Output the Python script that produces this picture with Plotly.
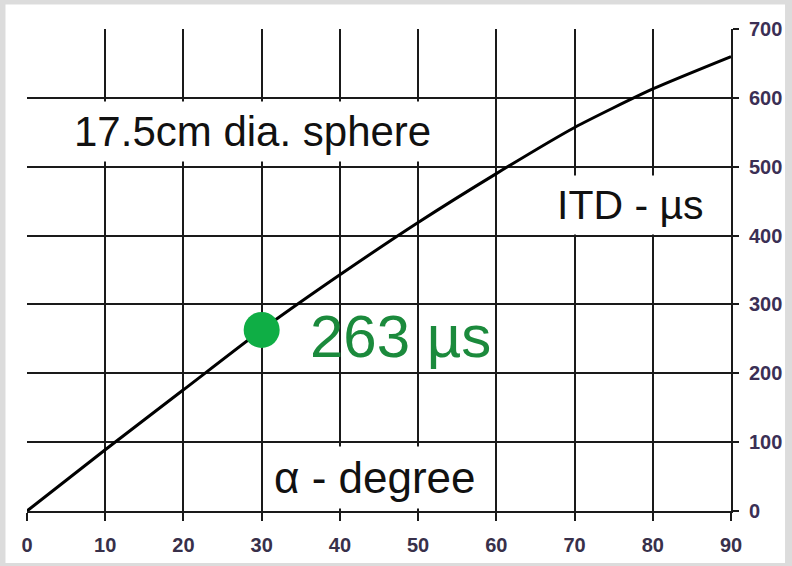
import plotly.graph_objects as go

# Interaural time difference for a 17.5 cm sphere vs. azimuth
angle_deg = [0, 10, 20, 30, 40, 50, 60, 70, 80, 90]
itd_us = [0, 89, 176, 263, 343, 419, 490, 557, 613, 660]

marker_angle = [30]
marker_itd = [263]

x_ticks = [0, 10, 20, 30, 40, 50, 60, 70, 80, 90]
y_ticks = [0, 100, 200, 300, 400, 500, 600, 700]

FONT = "Liberation Sans, Arial, sans-serif"

fig = go.Figure()

fig.add_trace(go.Scatter(
    x=angle_deg, y=itd_us, mode="lines",
    line=dict(color="black", width=3, shape="spline", smoothing=0.6),
    hoverinfo="skip", showlegend=False,
))

fig.add_trace(go.Scatter(
    x=marker_angle, y=marker_itd, mode="markers",
    marker=dict(color="#0fae45", size=36, line=dict(width=0)),
    showlegend=False,
))

grid_col = "#1a1a1a"

fig.update_xaxes(
    range=[0, 90], tickvals=x_ticks, ticktext=[str(v) for v in x_ticks],
    showgrid=True, gridcolor=grid_col, gridwidth=2,
    showline=True, linecolor=grid_col, linewidth=2, mirror=False,
    ticks="outside", ticklen=8, tickwidth=2, tickcolor=grid_col,
    ticklabelstandoff=7, automargin=False,
    tickfont=dict(family=FONT, size=20, color="#38304a", weight="bold"),
    zeroline=False, fixedrange=True,
)
fig.update_yaxes(
    range=[0, 700], tickvals=y_ticks, side="right",
    showgrid=True, gridcolor=grid_col, gridwidth=2,
    showline=True, linecolor=grid_col, linewidth=2,
    ticks="outside", ticklen=6, tickwidth=2, tickcolor=grid_col,
    ticklabelstandoff=6, automargin=False,
    tickfont=dict(family=FONT, size=20, color="#3b2f55", weight="bold"),
    zeroline=False, fixedrange=True,
)

annotations = [
    dict(x=28.8, y=551, text="17.5cm dia. sphere", size=42),
    dict(x=77.1, y=445, text="ITD - µs", size=41),
    dict(x=44.5, y=49, text="α - degree", size=44),
]
for a in annotations:
    fig.add_annotation(
        x=a["x"], y=a["y"], xref="x", yref="y", text=a["text"], showarrow=False,
        font=dict(family=FONT, size=a["size"], color="#111111"),
        bgcolor="white", borderpad=6,
        xanchor="center", yanchor="middle",
    )

fig.add_annotation(
    x=35.9, y=253, xref="x", yref="y", text="263 µs", showarrow=False,
    font=dict(family=FONT, size=60, color="#1b8a3c"),
    xanchor="left", yanchor="middle",
)

# White panel on a grey surround
fig.add_shape(
    type="rect", xref="paper", yref="paper", layer="below",
    x0=-21.5 / 703.5, x1=(785 - 27.5) / 703.5,
    y0=-(563 - 511) / 481.5, y1=1 + (29.5 - 5) / 481.5,
    fillcolor="white", line=dict(width=0),
)

fig.update_layout(
    width=792, height=566,
    margin=dict(l=27, r=61, t=29, b=55),
    paper_bgcolor="#dcdcdc", plot_bgcolor="white",
    font=dict(family=FONT),
    showlegend=False,
)

fig.write_html("out.html")
